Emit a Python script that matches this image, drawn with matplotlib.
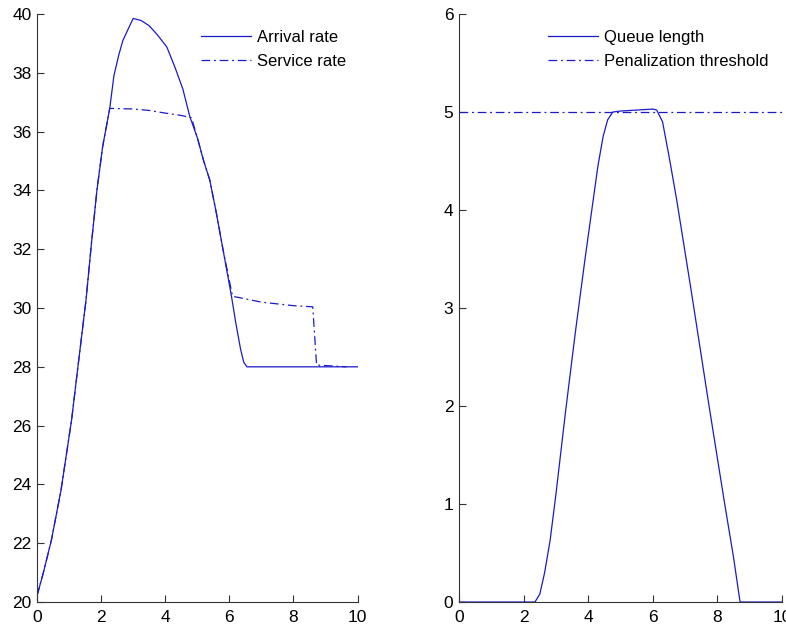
import matplotlib
matplotlib.use("Agg")
import matplotlib.pyplot as plt

# ---- data ----
arrival_t = [0, 0.2, 0.45, 0.75, 1.08, 1.3, 1.53, 1.7, 1.87, 2.05, 2.27, 2.4, 2.55, 2.68,
             2.85, 3.0, 3.25, 3.5, 3.75, 4.05, 4.3, 4.55, 4.77, 5.0, 5.2, 5.39, 5.6, 5.8,
             6.06, 6.2, 6.35, 6.45, 6.55, 10]
arrival_v = [20.2, 21.0, 22.1, 23.8, 26.19, 28.2, 30.27, 32.2, 34.0, 35.5, 36.79, 37.9, 38.6, 39.1,
             39.5, 39.85, 39.78, 39.6, 39.3, 38.88, 38.2, 37.45, 36.5, 35.8, 35.0, 34.35, 33.2, 32.0,
             30.44, 29.5, 28.6, 28.15, 28.0, 28.0]

service_t = [0, 0.2, 0.45, 0.75, 1.08, 1.3, 1.53, 1.7, 1.87, 2.05, 2.27,
             3.0, 3.5, 4.0, 4.5, 4.82, 5.0, 5.2, 5.39, 5.6, 5.8, 6.1, 7.0, 8.0, 8.6, 8.72, 9.65]
service_v = [20.2, 21.0, 22.1, 23.8, 26.19, 28.2, 30.27, 32.2, 34.0, 35.5, 36.79,
             36.77, 36.72, 36.63, 36.55, 36.47, 35.8, 35.0, 34.35, 33.2, 32.0, 30.4, 30.2, 30.08, 30.04, 28.06, 28.0]

queue_t = [0, 2.35, 2.5, 2.65, 2.82, 3.0, 3.3, 3.6, 3.9, 4.11, 4.3, 4.46, 4.6, 4.76,
           5.0, 5.5, 6.0, 6.12, 6.3, 6.5, 6.74, 7.2, 7.74, 8.2, 8.5, 8.7, 10]
queue_q = [0, 0, 0.08, 0.3, 0.63, 1.1, 1.95, 2.75, 3.5, 4.0, 4.45, 4.75, 4.92, 5.0,
           5.01, 5.02, 5.03, 5.02, 4.9, 4.55, 4.1, 3.15, 2.0, 1.05, 0.45, 0, 0]

threshold = 5
xticks = [0, 2, 4, 6, 8, 10]
left_yticks = [20, 22, 24, 26, 28, 30, 32, 34, 36, 38, 40]
right_yticks = [0, 1, 2, 3, 4, 5, 6]

plt.rcParams['font.family'] = ['Liberation Sans', 'DejaVu Sans']
plt.rcParams['font.size'] = 12.5

LINE = '#1a1acc'
DASHDOT = (0, (7, 3, 1.5, 3))

fig = plt.figure(figsize=(7.86, 6.26), dpi=100)
ax1 = fig.add_axes([0.047, 0.0383, 0.408, 0.9393])
ax2 = fig.add_axes([0.584, 0.0383, 0.411, 0.9393])


def style(ax, yticks):
    for s in ('top', 'right'):
        ax.spines[s].set_visible(False)
    for s in ('left', 'bottom'):
        ax.spines[s].set_color('#333333')
        ax.spines[s].set_linewidth(0.8)
    ax.set_xlim(0, 10)
    ax.set_xticks(xticks)
    ax.set_ylim(yticks[0], yticks[-1])
    ax.set_yticks(yticks)
    ax.tick_params(direction='in', length=5, width=0.8, color='#333333', pad=4)
    ax.tick_params(axis='x', pad=6)


ax1.plot(arrival_t, arrival_v, color=LINE, lw=0.9, label='Arrival rate')
ax1.plot(service_t, service_v, color=LINE, lw=0.9, linestyle=DASHDOT, label='Service rate')
style(ax1, left_yticks)
ax1.legend(loc='upper left', bbox_to_anchor=(0.49, 0.985), frameon=False, fontsize=12,
           handlelength=3.0, handletextpad=0.35, labelspacing=0.55, borderaxespad=0)

ax2.plot(queue_t, queue_q, color=LINE, lw=0.9, label='Queue length')
ax2.axhline(threshold, color=LINE, lw=0.9, linestyle=DASHDOT, label='Penalization threshold')
style(ax2, right_yticks)
ax2.legend(loc='upper left', bbox_to_anchor=(0.255, 0.985), frameon=False, fontsize=12,
           handlelength=3.0, handletextpad=0.35, labelspacing=0.55, borderaxespad=0)

fig.savefig('out.png', dpi=100)
